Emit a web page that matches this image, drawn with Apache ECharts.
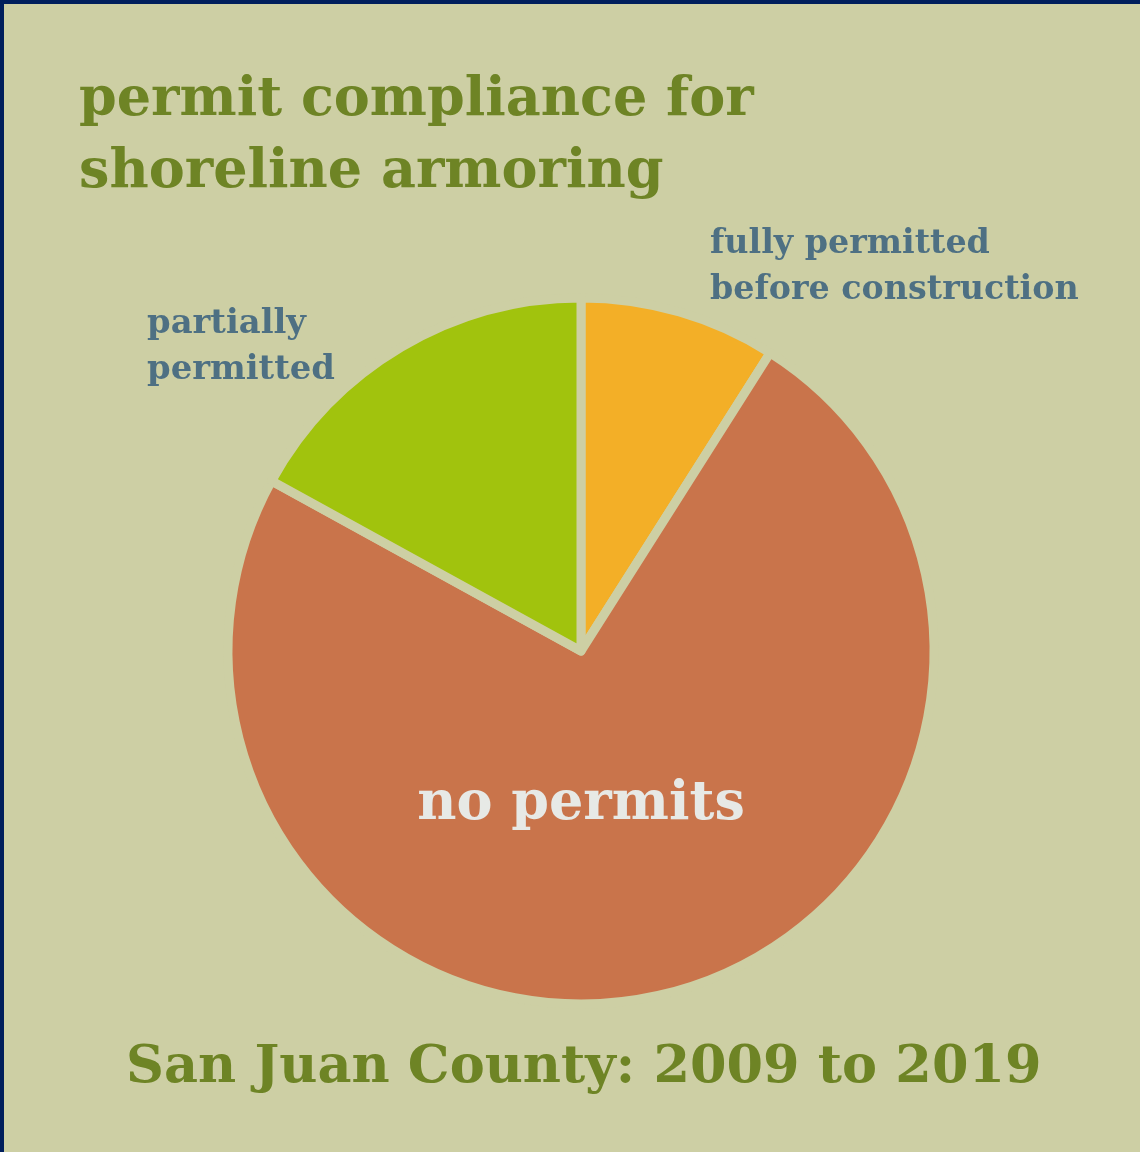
<!DOCTYPE html>
<html>
<head>
<meta charset="utf-8">
<script src="https://cdn.jsdelivr.net/npm/echarts@6/dist/echarts.min.js"></script>
<style>
html,body{margin:0;padding:0;background:#CDCFA4;}
#chart{width:1140px;height:1152px;}
</style>
</head>
<body>
<div id="chart"></div>
<script>
const categories = ["fully permitted\nbefore construction", "no permits", "partially\npermitted"];
const values = [9, 74, 17];
const colors = ["#F3AF27", "#C9744B", "#A1C30D"];
const titleText = "permit compliance for\nshoreline armoring";
const subtitleText = "San Juan County: 2009 to 2019";

const BG = "#CDCFA4";
const FONT = "DejaVu Serif";
const chart = echarts.init(document.getElementById('chart'));
chart.setOption({
  backgroundColor: BG,
  animation: false,
  title: [
    { text: titleText, left: 74, top: 60,
      textStyle: { fontFamily: FONT, fontWeight: 'bold', fontSize: 54, lineHeight: 72, color: '#6E8425' } },
    { text: subtitleText, left: 121, top: 1037,
      textStyle: { fontFamily: FONT, fontWeight: 'bold', fontSize: 52.5, color: '#6E8425' } }
  ],
  graphic: [
    { type: 'rect', shape: { x: 0, y: 0, width: 1140, height: 4 }, style: { fill: '#001F5C' }, z: 100 },
    { type: 'rect', shape: { x: 0, y: 0, width: 4, height: 1152 }, style: { fill: '#001F5C' }, z: 100 },
    { type: 'text', left: 710, top: 221, style: { text: categories[0], font: 'bold 33.3px "DejaVu Serif"', fill: '#4E7083', lineHeight: 46 } },
    { type: 'text', left: 147, top: 301, style: { text: categories[2], font: 'bold 33.8px "DejaVu Serif"', fill: '#4E7083', lineHeight: 46 } }
  ],
  series: [{
    type: 'pie',
    center: [581, 651],
    radius: 353,
    startAngle: 90,
    clockwise: true,
    data: categories.map((c, i) => ({
      name: c, value: values[i],
      itemStyle: { color: colors[i] },
      label: i === 1 ? { show: true, position: 'center', formatter: '{b}', color: '#E7E9E6', fontFamily: FONT, fontWeight: 'bold', fontSize: 54, offset: [0, 154] } : { show: false }
    })),
    itemStyle: { borderColor: BG, borderWidth: 9, borderJoin: 'round' },
    labelLine: { show: false },
    emphasis: { disabled: true }
  }]
});
</script>
</body>
</html>
